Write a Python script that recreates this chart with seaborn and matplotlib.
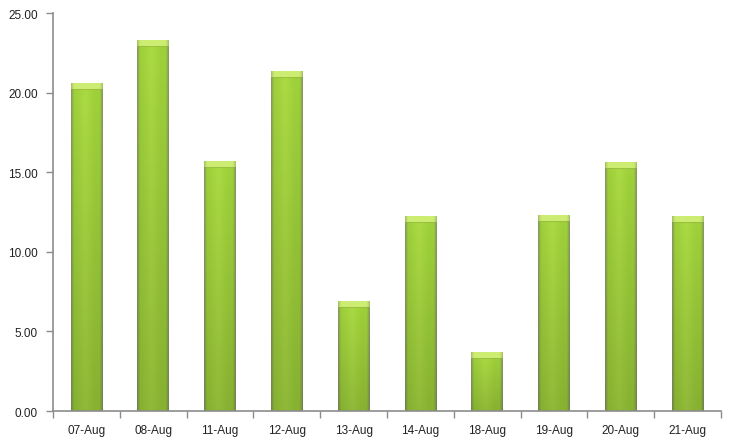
import numpy as np
import pandas as pd
import matplotlib
matplotlib.use("Agg")
import matplotlib.pyplot as plt
import seaborn as sns
from matplotlib.ticker import FormatStrFormatter, FixedLocator, NullFormatter

dates = ["07-Aug", "08-Aug", "11-Aug", "12-Aug", "13-Aug",
         "14-Aug", "18-Aug", "19-Aug", "20-Aug", "21-Aug"]
values = [20.55, 23.30, 15.65, 21.35, 6.90, 12.20, 3.65, 12.30, 15.60, 12.20]
y_ticks = [0, 5, 10, 15, 20, 25]

df = pd.DataFrame({"date": dates, "value": values})

sns.set_style("white")
plt.rcParams["font.family"] = ["Liberation Sans", "DejaVu Sans"]

fig = plt.figure(figsize=(7.30, 4.39), dpi=100)
ax = fig.add_axes([0.0726, 0.0615, 0.915, 0.9065])

sns.barplot(data=df, x="date", y="value", color="#9cc43a", width=0.47,
            saturation=1, ax=ax, zorder=2)

# horizontal shading across each bar: thin grey-olive rims, light centre
n = 64
t = np.linspace(0, 1, n)
edge = np.array([0.50, 0.56, 0.36])
mid = np.array([0.60, 0.79, 0.22])
hi = np.array([0.68, 0.85, 0.28])
prof = np.abs(t - 0.5) * 2  # 0 centre, 1 rim
w_rim = np.clip((prof - 0.80) / 0.20, 0, 1) ** 1.2
w_hi = np.clip(1 - np.abs(t - 0.45) / 0.30, 0, 1)
row = mid[None, :] * (1 - w_rim[:, None]) + edge[None, :] * w_rim[:, None]
row = row * (1 - 0.6 * w_hi[:, None]) + hi[None, :] * (0.6 * w_hi[:, None])

cap_h = 0.34
cap = np.array([0.80, 0.93, 0.45])
caprow = cap[None, :] * (1 - 0.5 * w_rim[:, None]) + edge[None, :] * (0.5 * w_rim[:, None])
for p in ax.patches:
    x0 = p.get_x()
    w = p.get_width()
    h = p.get_height()
    m = 80
    v = np.linspace(0, 1, m)[:, None, None]  # 0 bottom, 1 top
    img = row[None, :, :] * (0.88 + 0.16 * v)
    img = np.clip(img, 0, 1)
    p.set_facecolor("none")
    p.set_edgecolor("none")
    ax.imshow(img, extent=(x0, x0 + w, 0, h), origin="lower",
              aspect="auto", zorder=2, interpolation="bilinear")
    # light top cap
    cimg = np.clip(caprow[None, :, :] * np.ones((4, 1, 1)), 0, 1)
    ax.imshow(cimg, extent=(x0, x0 + w, h - cap_h, h), origin="lower",
              aspect="auto", zorder=3, interpolation="bilinear")
    ax.plot([x0 + w * 0.06, x0 + w * 0.94], [h - cap_h, h - cap_h],
            color="#94b440", lw=0.8, zorder=4, alpha=0.6)

ax.set_xlim(-0.5, len(dates) - 0.5)
ax.set_ylim(0, 25)
ax.yaxis.set_major_locator(FixedLocator(y_ticks))
ax.yaxis.set_major_formatter(FormatStrFormatter("%.2f"))
ax.set_xlabel("")
ax.set_ylabel("")

ax.xaxis.set_minor_locator(FixedLocator(np.arange(-0.5, len(dates), 1.0)))
ax.xaxis.set_minor_formatter(NullFormatter())
ax.tick_params(axis="x", which="major", bottom=False, length=0, pad=9,
               labelsize=8.5, labelcolor="#222222")
ax.tick_params(axis="x", which="minor", bottom=True, length=5, width=1,
               color="#8c8c8c", direction="out")
ax.tick_params(axis="y", which="major", left=True, length=5, width=1,
               color="#8c8c8c", direction="out", labelsize=8.5,
               labelcolor="#222222", pad=6)

for s in ["top", "right"]:
    ax.spines[s].set_visible(False)
for s in ["left", "bottom"]:
    ax.spines[s].set_color("#8c8c8c")
    ax.spines[s].set_linewidth(1.2)

fig.savefig("out.png", dpi=100)
